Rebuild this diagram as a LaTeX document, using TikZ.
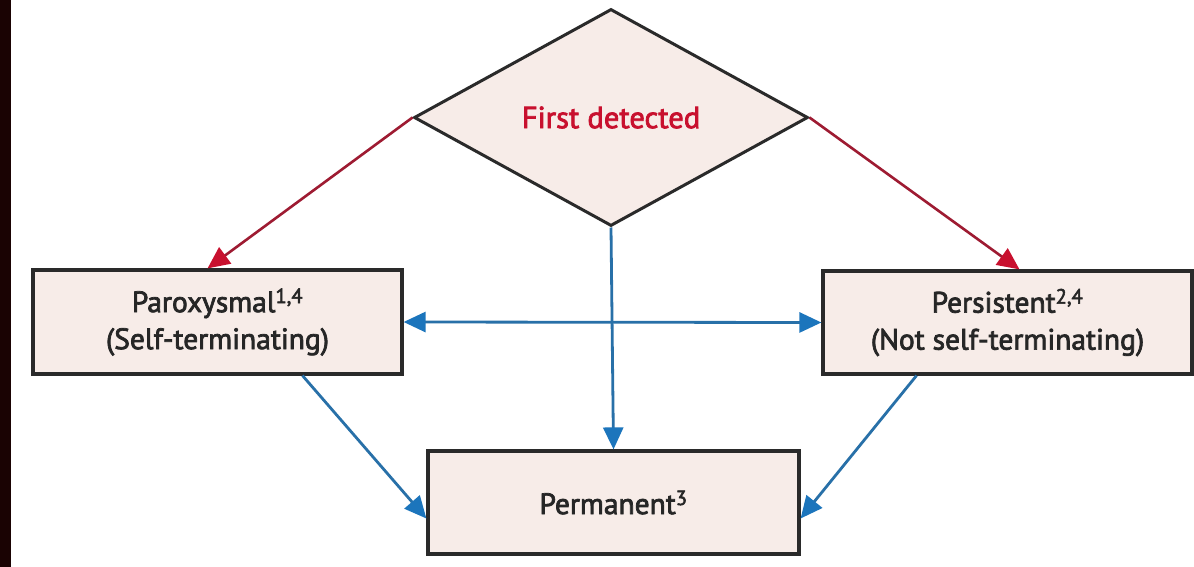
\documentclass[tikz,border=0pt]{standalone}
\usepackage{fontspec}
\setmainfont{PT Sans}
\newfontfamily\labelfont{PT Sans}[FakeBold=2.5]
\usetikzlibrary{shapes.geometric,arrows.meta}
\definecolor{strip}{HTML}{1A0303}
\definecolor{boxfill}{HTML}{F7ECE8}
\definecolor{boxline}{HTML}{2A2A2A}
\definecolor{redline}{HTML}{9E1B32}
\definecolor{redhead}{HTML}{C8102E}
\definecolor{blueline}{HTML}{2870A8}
\definecolor{bluehead}{HTML}{1C75BC}
\definecolor{redtext}{HTML}{C8102E}
\tikzset{
  stepbox/.style={draw=boxline, line width=3.2pt, fill=boxfill, inner sep=0pt, align=center, font=\labelfont\fontsize{29.5}{37}\selectfont, text=black!85},
  decision/.style={diamond, draw=boxline, line width=3pt, fill=boxfill, inner sep=0pt, font=\labelfont\fontsize{30.5}{34}\selectfont, text=redtext},
  redarrow/.style={draw=redline, line width=2.6pt, -{Triangle[length=22pt,width=20pt,fill=redhead,color=redhead]}},
  bluearrow/.style={draw=blueline, line width=2.8pt, -{Triangle[length=22pt,width=20pt,fill=bluehead,color=bluehead]}},
  bluedouble/.style={draw=blueline, line width=2.8pt, {Triangle[length=22pt,width=20pt,fill=bluehead,color=bluehead]}-{Triangle[length=22pt,width=20pt,fill=bluehead,color=bluehead]}}
}
\begin{document}
\begin{tikzpicture}[x=1pt,y=-1pt]
\useasboundingbox (0,0) rectangle (1194,567);
\fill[white] (0,0) rectangle (1194,567);
\fill[strip] (0,0) rectangle (11,567);
\node[decision, minimum width=394pt, minimum height=217pt] (fd) at (611,117.5) {First detected};
\node[stepbox, minimum width=369pt, minimum height=104pt] (par) at (217.5,322) {Paroxysmal\textsuperscript{1,4}\\(Self-terminating)};
\node[stepbox, minimum width=369pt, minimum height=103pt] (per) at (1007.5,322.5) {Persistent\textsuperscript{2,4}\\(Not self-terminating)};
\node[stepbox, minimum width=371pt, minimum height=103pt] (perm) at (613.5,502.5) {Permanent\textsuperscript{3}};
\draw[redarrow] (fd.west) -- ([xshift=-10pt]par.north);
\draw[redarrow] (fd.east) -- ([xshift=12pt]per.north);
\draw[bluearrow] (fd.south) -- (perm.north);
\draw[bluedouble] (par.east) -- (per.west);
\draw[bluearrow] ([xshift=85pt]par.south) -- ([yshift=-16pt]perm.west);
\draw[bluearrow] ([xshift=-91pt]per.south) -- ([yshift=-16pt]perm.east);
\end{tikzpicture}
\end{document}
